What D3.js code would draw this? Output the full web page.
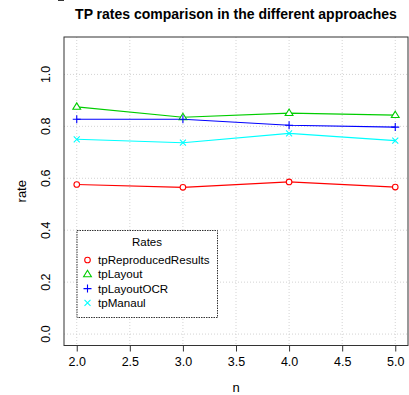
<!DOCTYPE html>
<html><head><meta charset="utf-8">
<script src="https://cdn.jsdelivr.net/npm/d3@7"></script>
<style>body{margin:0;background:#fff}svg{display:block}text{font-family:"Liberation Sans",Arial,Helvetica,sans-serif}</style>
</head><body>
<svg id="c" width="409" height="395"></svg>
<script>
const nValues = [2, 3, 4, 5];
const seriesNames = ["tpReproducedResults", "tpLayout", "tpLayoutOCR", "tpManaul"];
const tpReproducedResults = [0.576, 0.565, 0.586, 0.566];
const tpLayout = [0.875, 0.835, 0.851, 0.843];
const tpLayoutOCR = [0.827, 0.827, 0.804, 0.797];
const tpManaul = [0.750, 0.737, 0.773, 0.745];
const seriesColors = ["#ff0000", "#00cd00", "#0000ff", "#00ffff"];
const seriesSymbols = ["circle", "triangle", "plus", "cross"];
const xTicks = [2.0, 2.5, 3.0, 3.5, 4.0, 4.5, 5.0];
const yTicks = [0.0, 0.2, 0.4, 0.6, 0.8, 1.0];
const titleText = "TP rates comparison in the different approaches";
const xLabel = "n", yLabel = "rate", legendTitle = "Rates";

const allSeries = [tpReproducedResults, tpLayout, tpLayoutOCR, tpManaul];
const svg = d3.select("#c");
const L = 64, R = 408, T = 37, B = 345.5;
const x = d3.scaleLinear().domain([1.88, 5.12]).range([L, R]);
const y = d3.scaleLinear().domain([-0.044, 1.144]).range([B, T]);

// grid
svg.append("g").selectAll("line").data(xTicks).join("line")
  .attr("x1", d => x(d)).attr("x2", d => x(d)).attr("y1", T).attr("y2", B)
  .attr("stroke", "#d3d3d3").attr("stroke-dasharray", "1,2").attr("stroke-width", 1);
svg.append("g").selectAll("line").data(yTicks).join("line")
  .attr("y1", d => y(d)).attr("y2", d => y(d)).attr("x1", L).attr("x2", R)
  .attr("stroke", "#d3d3d3").attr("stroke-dasharray", "1,2").attr("stroke-width", 1);

// lines
const line = d3.line().x((d, i) => x(nValues[i])).y(d => y(d));
allSeries.forEach((s, k) => {
  svg.append("path").attr("d", line(s)).attr("fill", "none")
    .attr("stroke", seriesColors[k]).attr("stroke-width", 1.1);
});

function drawSymbol(g, type, cx, cy, color) {
  const r = 3;
  if (type === "circle") {
    g.append("circle").attr("cx", cx).attr("cy", cy).attr("r", 2.8).attr("fill", "#fff")
      .attr("stroke", color).attr("stroke-width", 1.1);
  } else if (type === "triangle") {
    const h = 4;
    g.append("path").attr("d", `M${cx},${cy - h}L${cx + 3.9},${cy + h * 0.6}L${cx - 3.9},${cy + h * 0.6}Z`)
      .attr("fill", "#fff").attr("stroke", color).attr("stroke-width", 1.1);
  } else if (type === "plus") {
    g.append("path").attr("d", `M${cx - 4},${cy}H${cx + 4}M${cx},${cy - 4}V${cy + 4}`)
      .attr("stroke", color).attr("stroke-width", 1.1);
  } else {
    g.append("path").attr("d", `M${cx - r},${cy - r}L${cx + r},${cy + r}M${cx - r},${cy + r}L${cx + r},${cy - r}`)
      .attr("stroke", color).attr("stroke-width", 1.1);
  }
}
allSeries.forEach((s, k) => {
  const g = svg.append("g");
  s.forEach((v, i) => drawSymbol(g, seriesSymbols[k], x(nValues[i]), y(v), seriesColors[k]));
});

// box
svg.append("rect").attr("x", L).attr("y", T).attr("width", R - L).attr("height", B - T)
  .attr("fill", "none").attr("stroke", "#333").attr("stroke-width", 1);

// axes
const xAxis = d3.axisBottom(x).tickValues(xTicks).tickFormat(d3.format(".1f")).tickSize(6).tickPadding(4);
const gx = svg.append("g").attr("transform", `translate(0,${B})`).call(xAxis);
gx.select(".domain").remove();
gx.selectAll("text").attr("font-size", 12.5).attr("fill", "#000").attr("dy", "0.85em");
gx.selectAll("line").attr("stroke", "#333");

const yAxis = d3.axisLeft(y).tickValues(yTicks).tickFormat(d3.format(".1f")).tickSize(6).tickPadding(0);
const gy = svg.append("g").attr("transform", `translate(${L},0)`).call(yAxis);
gy.select(".domain").remove();
gy.selectAll("line").attr("stroke", "#333");
gy.selectAll("text").attr("font-size", 12.5).attr("fill", "#000")
  .attr("text-anchor", "middle").attr("x", 0).attr("dy", 0)
  .each(function (d) { d3.select(this).attr("transform", `translate(-14,${y(d)}) rotate(-90)`).attr("y", 0); });
gy.selectAll(".tick").attr("transform", null);

// titles
svg.append("text").attr("x", (L + R) / 2).attr("y", 19).attr("text-anchor", "middle")
  .attr("font-size", 14).attr("font-weight", "bold").text(titleText);
svg.append("text").attr("x", (L + R) / 2).attr("y", 392).attr("text-anchor", "middle")
  .attr("font-size", 13).text(xLabel);
svg.append("text").attr("transform", `translate(26,${(T + B) / 2}) rotate(-90)`).attr("text-anchor", "middle")
  .attr("font-size", 13).text(yLabel);

// legend
const lg = svg.append("g");
lg.append("rect").attr("x", 77).attr("y", 230.5).attr("width", 140.5).attr("height", 87)
  .attr("fill", "#fff").attr("stroke", "#000").attr("stroke-width", 0.8).attr("stroke-dasharray", "1.5,1");
lg.append("text").attr("x", 147).attr("y", 246).attr("text-anchor", "middle").attr("font-size", 11.5).text(legendTitle);
seriesNames.forEach((nm, k) => {
  const cy = 260 + k * 14.3;
  drawSymbol(lg, seriesSymbols[k], 87.5, cy, seriesColors[k]);
  lg.append("text").attr("x", 98).attr("y", cy + 4).attr("font-size", 11.6).text(nm);
});
</script>
</body></html>
